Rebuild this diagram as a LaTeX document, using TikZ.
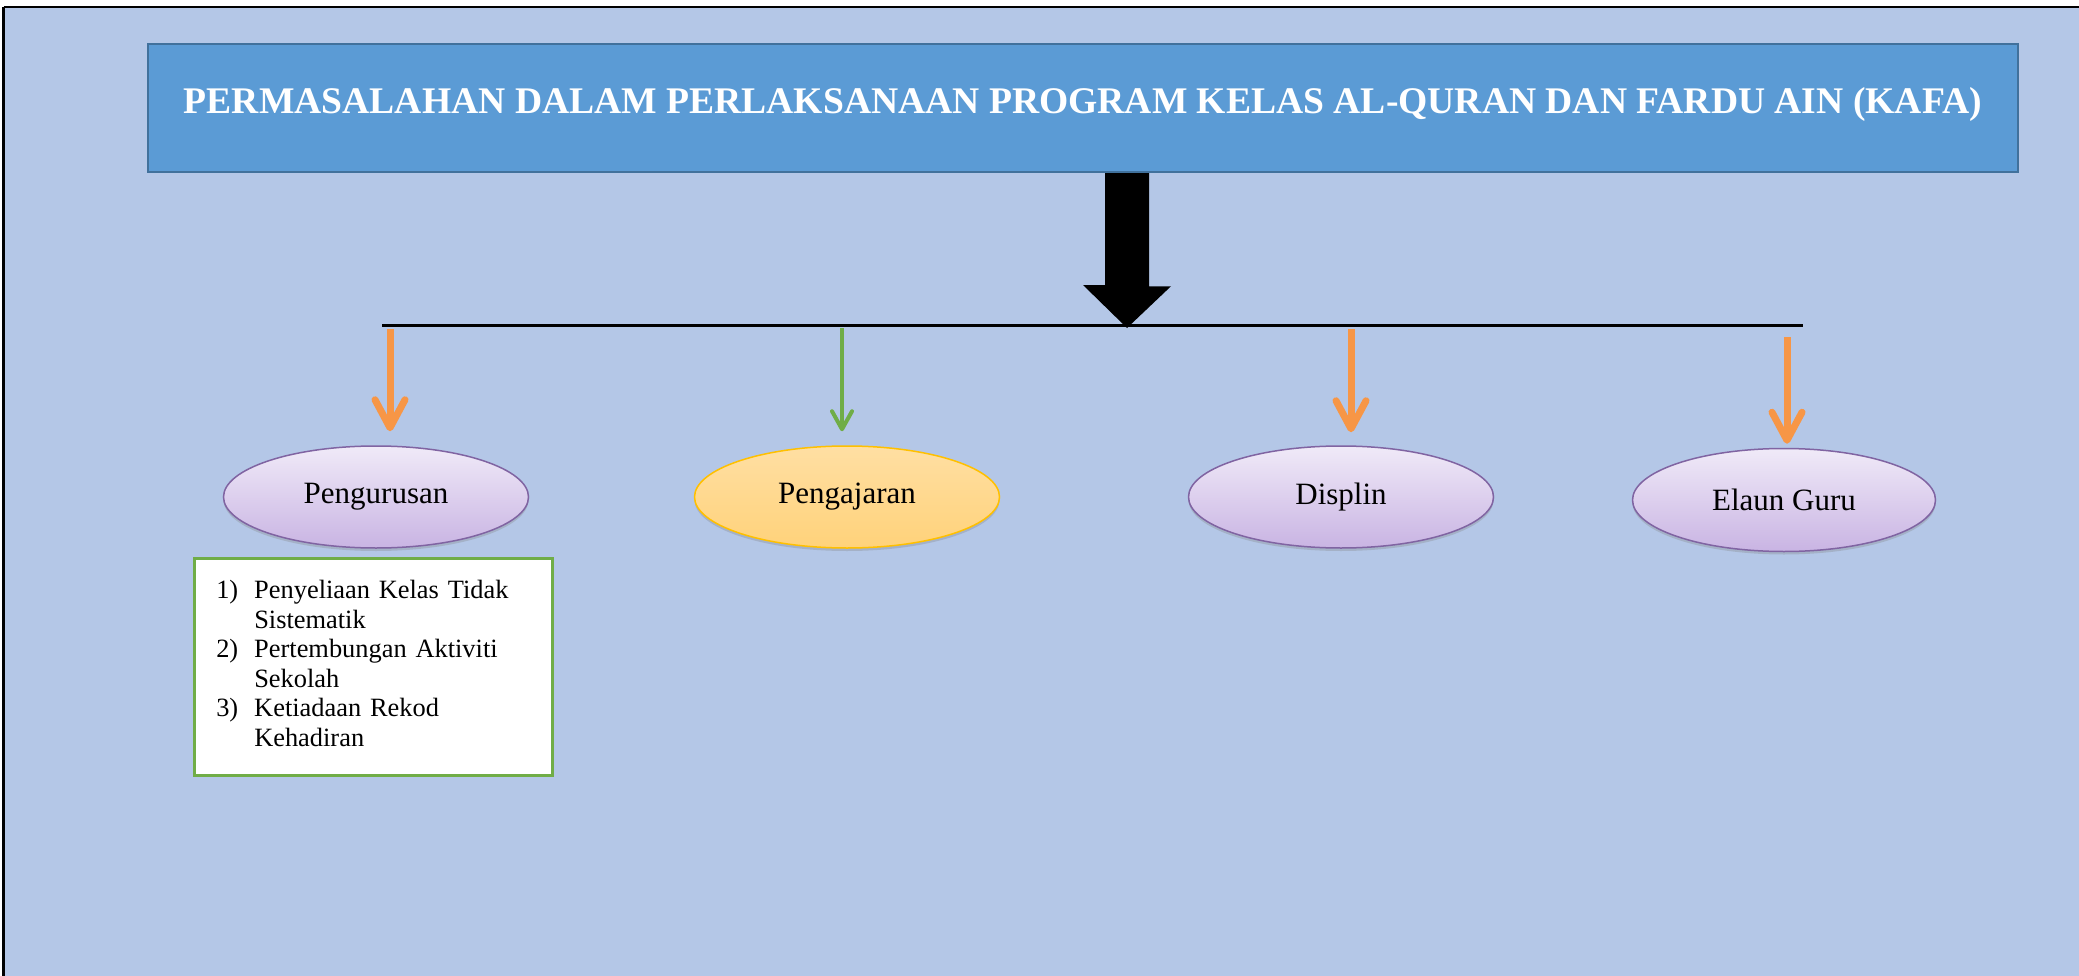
\documentclass[tikz,border=0pt]{standalone}
\usepackage{fontspec}
\setmainfont{Liberation Serif}
\usetikzlibrary{arrows.meta}
\usetikzlibrary{shapes.geometric}
\usetikzlibrary{shadows}

\definecolor{latar}{HTML}{B4C7E7}
\definecolor{judulbiru}{HTML}{5B9BD5}
\definecolor{judultepi}{HTML}{41719C}
\definecolor{oren}{HTML}{F79646}
\definecolor{hijau}{HTML}{70AD47}
\definecolor{ungu}{HTML}{8064A2}
\definecolor{unguatas}{HTML}{F0EAF8}
\definecolor{ungubawah}{HTML}{C9B4E3}
\definecolor{kuningtepi}{HTML}{FFC000}
\definecolor{kuningatas}{HTML}{FFDFA3}
\definecolor{kuningbawah}{HTML}{FFD27A}

\begin{document}
\begin{tikzpicture}[x=1pt, y=-1pt,
	elips/.style={ellipse, draw=ungu, line width=1.5pt, top color=unguatas, bottom color=ungubawah,
		minimum width=305pt, minimum height=102pt, inner sep=0pt, font=\fontsize{31}{36}\selectfont,
		drop shadow={shadow xshift=0pt, shadow yshift=-3pt, opacity=.3}},
	panahoren/.style={draw=oren, line width=7pt, -{Straight Barb[length=28pt, width=30pt, round]}},
	panahhijau/.style={draw=hijau, line width=4pt, -{Straight Barb[length=18pt, width=20pt, round]}}]
	\useasboundingbox (0,0) rectangle (2079,976);
	
	% background and frame
	\fill[latar] (5,8) rectangle (2079,976);
	\draw[line width=2.5pt] (3.5,7) -- (2079,7);
	\draw[line width=2.5pt] (3.5,7) -- (3.5,976);
	
	% title
	\node[rectangle, draw=judultepi, line width=2.5pt, fill=judulbiru, text=white,
		minimum width=1870pt, minimum height=128pt, text depth=15pt,
		font=\fontsize{37.6}{44}\selectfont\bfseries] (judul) at (1083,108)
		{PERMASALAHAN DALAM PERLAKSANAAN PROGRAM KELAS AL-QURAN DAN FARDU AIN (KAFA)};
	
	% big arrow down to the bar
	\coordinate (pusat) at (1127,328);
	\fill (judul.south -| pusat) ++(-22,0) -- ++(44,0) -- ++(0,113) -- ++(22,0) -- (pusat)
		-- ++(-44,-43) -- ++(22,0) -- cycle;
	
	% horizontal bar
	\coordinate (kiri) at (382,325);
	\coordinate (kanan) at (1803,325);
	\draw[line width=3pt] (kiri) -- (kanan);
	
	% the four problems
	\node[elips] (pengurusan) at (376,497) {Pengurusan};
	\node[elips, draw=kuningtepi, top color=kuningatas, bottom color=kuningbawah, drop shadow={opacity=0}] (pengajaran) at (847,497) {Pengajaran};
	\node[elips] (disiplin) at (1341,497) {Displin};
	\node[elips, minimum height=103pt, minimum width=303pt] (elaun) at (1784,500) {Elaun Guru};
	
	% arrows from the bar
	\coordinate (a1) at (390,329);
	\coordinate (a2) at (842,328);
	\coordinate (a3) at (1351,329);
	\coordinate (a4) at (1787,337);
	\draw[panahoren, shorten >=14pt] (a1) -- (a1 |- pengurusan.north);
	\draw[panahhijau, shorten >=14pt] (a2) -- (a2 |- pengajaran.north);
	\draw[panahoren, shorten >=13pt] (a3) -- (a3 |- disiplin.north);
	\draw[panahoren, shorten >=4pt] (a4) -- (a4 |- elaun.north);
	
	% list under Pengurusan
	\node[rectangle, draw=hijau, line width=2.5pt, fill=white, anchor=north west,
		inner xsep=22pt, inner ysep=20pt, text width=314pt, align=left,
		font=\fontsize{26.4}{29.5}\selectfont] (senarai) at (193,557)
		{\begin{tabular}{@{}p{38pt}@{}l@{}}
			1) & Penyeliaan Kelas Tidak\\
			& Sistematik\\
			2) & Pertembungan Aktiviti\\
			& Sekolah\\
			3) & Ketiadaan Rekod\\
			& Kehadiran
		\end{tabular}};
\end{tikzpicture}
\end{document}
